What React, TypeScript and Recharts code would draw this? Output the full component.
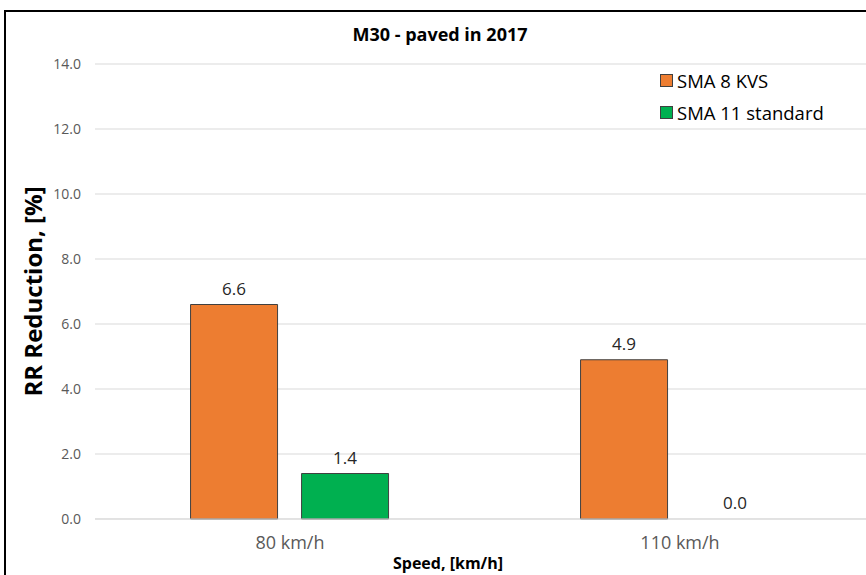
import React from 'react';
import { BarChart, Bar, Cell, XAxis, YAxis, CartesianGrid, Legend, LabelList } from 'recharts';

const speeds = ['80 km/h', '110 km/h'];
const sma8kvs = [6.6, 4.9];
const sma11std = [1.4, 0.0];
const yTicks = [0, 2, 4, 6, 8, 10, 12, 14];
const seriesNames = ['SMA 8 KVS', 'SMA 11 standard'];

const data = speeds.map((speed, i) => ({
  speed,
  kvs: sma8kvs[i],
  std: sma11std[i],
}));

const FONT = '"Open Sans", sans-serif';

const LegendBox = ({ payload }: any) => {
  const items = [...(payload || [])].sort(
    (a: any, b: any) => seriesNames.indexOf(a.value) - seriesNames.indexOf(b.value)
  );
  return (
    <div style={{ fontFamily: FONT, fontSize: 18.5, color: '#000', textAlign: 'left' }}>
      {items.map((p: any) => (
        <div key={p.value} style={{ display: 'flex', alignItems: 'center', height: 32 }}>
          <span
            style={{
              width: 11,
              height: 11,
              background: p.color,
              border: '1px solid #404040',
              marginRight: 4,
              display: 'inline-block',
            }}
          />
          {p.value}
        </div>
      ))}
    </div>
  );
};

const ValueLabel = (props: any) => {
  const { x, y, width, height, value } = props;
  if (value === undefined || value === null) return null;
  const top = Number(value) === 0 ? Number(y) + Number(height) : Number(y);
  return (
    <text
      x={Number(x) + Number(width) / 2}
      y={top - 10}
      textAnchor="middle"
      fill="#262626"
      fontSize={17}
      fontFamily={FONT}
    >
      {Number(value).toFixed(1)}
    </text>
  );
};

export default function App() {
  return (
    <div style={{ position: 'fixed', inset: 0, overflow: 'hidden', background: '#fff' }}>
      <div
        style={{
          position: 'absolute',
          left: 4,
          top: 10,
          width: 880,
          height: 580,
          border: '2px solid #000',
          background: '#fff',
        }}
      >
        <div
          style={{
            position: 'absolute',
            left: 0,
            width: 868,
            top: 10,
            textAlign: 'center',
            fontFamily: FONT,
            fontWeight: 700,
            fontSize: 18,
            color: '#000',
          }}
        >
          M30 - paved in 2017
        </div>
        <BarChart
          width={880}
          height={580}
          data={data}
          margin={{ top: 52, right: 11, left: 0, bottom: 43 }}
          barCategoryGap="24.5%"
          barGap={24}
        >
          <CartesianGrid vertical={false} stroke="#d9d9d9" />
          <XAxis
            dataKey="speed"
            height={30}
            axisLine={{ stroke: '#d9d9d9' }}
            tickLine={false}
            tickSize={0}
            tickMargin={17}
            tick={{ fill: '#595959', fontSize: 18, fontFamily: FONT }}
            label={{
              value: 'Speed, [km/h]',
              position: 'bottom',
              offset: 9,
              dx: -37,
              fill: '#000',
              fontWeight: 700,
              fontSize: 16,
              fontFamily: FONT,
            }}
          />
          <YAxis
            width={89}
            domain={[0, 14]}
            ticks={yTicks}
            interval={0}
            axisLine={false}
            tickLine={false}
            tickSize={0}
            tickMargin={14}
            tickFormatter={(v: number) => v.toFixed(1)}
            tick={{ fill: '#595959', fontSize: 14, fontFamily: FONT }}
            label={{
              value: 'RR Reduction, [%]',
              angle: -90,
              position: 'insideLeft',
              offset: 27,
              style: { textAnchor: 'middle' },
              fill: '#000',
              fontWeight: 700,
              fontSize: 24,
              fontFamily: FONT,
            }}
          />
          <Legend
            layout="vertical"
            verticalAlign="middle"
            align="center"
            content={<LegendBox />}
            wrapperStyle={{ top: 52, left: 654, width: 220 }}
          />
          <Bar dataKey="kvs" name="SMA 8 KVS" fill="#ED7D31" stroke="#404040" strokeWidth={1} isAnimationActive={false}>
            <LabelList dataKey="kvs" content={<ValueLabel />} />
          </Bar>
          <Bar
            dataKey="std"
            name="SMA 11 standard"
            fill="#00B050"
            stroke="#404040"
            strokeWidth={1}
            minPointSize={1}
            isAnimationActive={false}
          >
            {sma11std.map((v, i) => (
              <Cell
                key={i}
                fill={v === 0 ? 'transparent' : '#00B050'}
                stroke={v === 0 ? 'none' : '#404040'}
              />
            ))}
            <LabelList dataKey="std" content={<ValueLabel />} />
          </Bar>
        </BarChart>
      </div>
    </div>
  );
}
